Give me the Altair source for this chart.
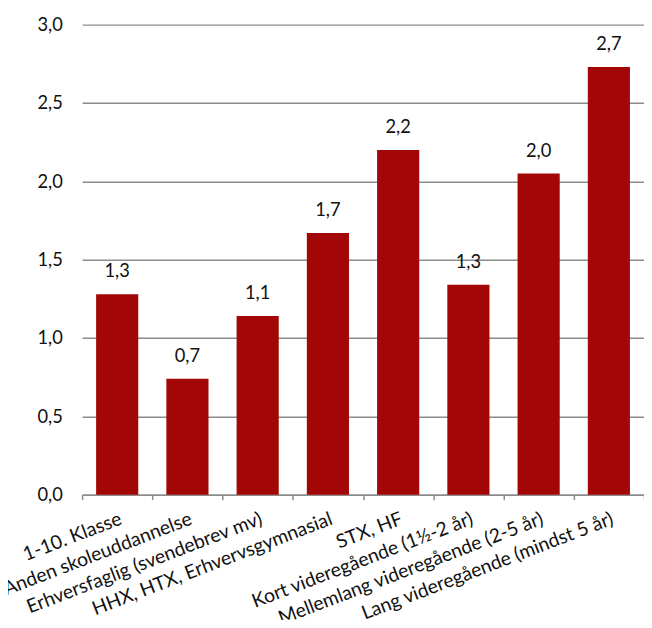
import altair as alt
import pandas as pd

categories = [
    "1-10. Klasse",
    "Anden skoleuddannelse",
    "Erhversfaglig (svendebrev mv)",
    "HHX, HTX, Erhvervsgymnasial",
    "STX, HF",
    "Kort videregående (1½-2 år)",
    "Mellemlang videregående (2-5 år)",
    "Lang videregående (mindst 5 år)",
]
values = [1.28, 0.74, 1.14, 1.67, 2.20, 1.34, 2.05, 2.73]

df = pd.DataFrame({"kategori": categories, "vaerdi": values})

FONT = "Lato"
BAR = "#A30606"
TXT = "#111111"

x_enc = alt.X(
    "kategori:N",
    sort=categories,
    scale=alt.Scale(paddingInner=0, paddingOuter=0),
    axis=alt.Axis(
        title=None,
        labelAngle=-21,
        labelAlign="right",
        labelBaseline="top",
        labelPadding=10,
        labelFontSize=19.5,
        labelFont=FONT,
        labelColor=TXT,
        labelLimit=400,
        domainColor="#8C8C8C",
        domainWidth=1.5,
        tickColor="#8C8C8C",
        tickWidth=1.5,
        tickSize=5,
        tickBand="extent",
        grid=False,
    ),
)

y_enc = alt.Y(
    "vaerdi:Q",
    scale=alt.Scale(domain=[0, 3.0], nice=False),
    axis=alt.Axis(
        title=None,
        values=[0, 0.5, 1.0, 1.5, 2.0, 2.5, 3.0],
        labelExpr="replace(format(datum.value, '.1f'), '.', ',')",
        labelFontSize=18.5,
        labelFont=FONT,
        labelColor=TXT,
        labelPadding=20,
        domain=False,
        ticks=False,
        grid=True,
        gridColor="#8C8C8C",
        gridWidth=1.5,
    ),
)

bars = alt.Chart(df).mark_bar(color=BAR, width=alt.RelativeBandSize(0.6)).encode(x=x_enc, y=y_enc)

labels = (
    alt.Chart(df)
    .transform_calculate(lbl="replace(format(datum.vaerdi, '.1f'), '.', ',')")
    .mark_text(baseline="alphabetic", dy=-17, fontSize=18.5, font=FONT, color=TXT)
    .encode(x=alt.X("kategori:N", sort=categories), y="vaerdi:Q", text="lbl:N")
)

chart = (
    alt.layer(bars, labels)
    .properties(
        width=569,
        height=476,
        autosize=alt.AutoSizeParams(type="none"),
        padding={"left": 75, "top": 13, "right": 0, "bottom": 123},
    )
    .configure_view(stroke=None)
)

chart.save("out.html", embed_options={"renderer": "svg", "actions": False})
